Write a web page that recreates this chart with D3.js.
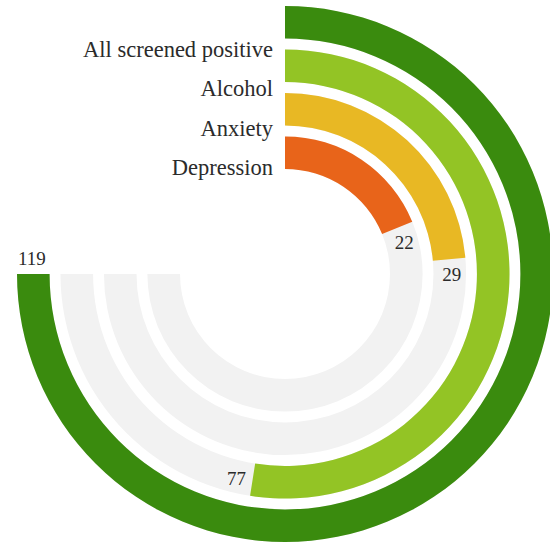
<!DOCTYPE html>
<html>
<head>
<meta charset="utf-8">
<script src="https://cdn.jsdelivr.net/npm/d3@7"></script>
<style>
  body { margin: 0; background: #fff; }
  text { font-family: "Liberation Serif", "DejaVu Serif", serif; fill: #2b2b2b; }
</style>
</head>
<body>
<svg id="radial"></svg>
<script>
// data
const categories = ["All screened positive", "Alcohol", "Anxiety", "Depression"];
const counts = [119, 77, 29, 22];
const colors = ["#3a8b0e", "#93c425", "#e8b824", "#e8641a"];

const canvWidth = 550;
const canvHeight = 548;
const center = { x: 285, y: 274 };

const svg = d3.select("#radial")
    .attr("width", canvWidth)
    .attr("height", canvHeight)
    .append("g")
    .attr("transform", "translate(" + center.x + "," + center.y + ")");

// rings: outermost is the first category
const r = d3.scaleBand()
    .domain(categories.slice().reverse())
    .range([105, 268])
    .paddingInner(0.25);

// angle of each bar, full scale is three quarters of a turn
const a = d3.scalePow()
    .exponent(0.82)
    .domain([0, d3.max(counts)])
    .range([0, 1.5 * Math.PI]);

const data = categories.map(function (c, i) {
    return { name: c, value: counts[i], color: colors[i] };
});

const arc = d3.arc()
    .innerRadius(function (d) { return r(d.name); })
    .outerRadius(function (d) { return r(d.name) + r.bandwidth(); })
    .startAngle(0);

// grey tracks
svg.selectAll(".track")
    .data(data)
    .enter().append("path")
    .attr("class", "track")
    .attr("fill", "#f2f2f2")
    .attr("d", function (d) { return arc.endAngle(a.range()[1])(d); });

// bars
svg.selectAll(".bar")
    .data(data)
    .enter().append("path")
    .attr("class", "bar")
    .attr("fill", function (d) { return d.color; })
    .attr("d", function (d) { return arc.endAngle(a(d.value))(d); });

// category labels at the top, right aligned against the start of the bars
svg.selectAll(".label")
    .data(data)
    .enter().append("text")
    .attr("class", "label")
    .attr("x", -12)
    .attr("y", function (d) { return -0.91 * r(d.name) - 3; })
    .attr("text-anchor", "end")
    .style("font-size", "22.5px")
    .text(function (d) { return d.name; });

// value labels just past the end of each bar
svg.selectAll(".value")
    .data(data)
    .enter().append("text")
    .attr("class", "value")
    .attr("text-anchor", "middle")
    .attr("dominant-baseline", "central")
    .style("font-size", "19px")
    .attr("transform", function (d) {
        const rad = r(d.name) + r.bandwidth() / 2 + 2;
        const ang = a(d.value) + 16 / rad;
        return "translate(" + (rad * Math.sin(ang)) + "," + (-rad * Math.cos(ang)) + ")";
    })
    .text(function (d) { return d.value; });
</script>
</body>
</html>
